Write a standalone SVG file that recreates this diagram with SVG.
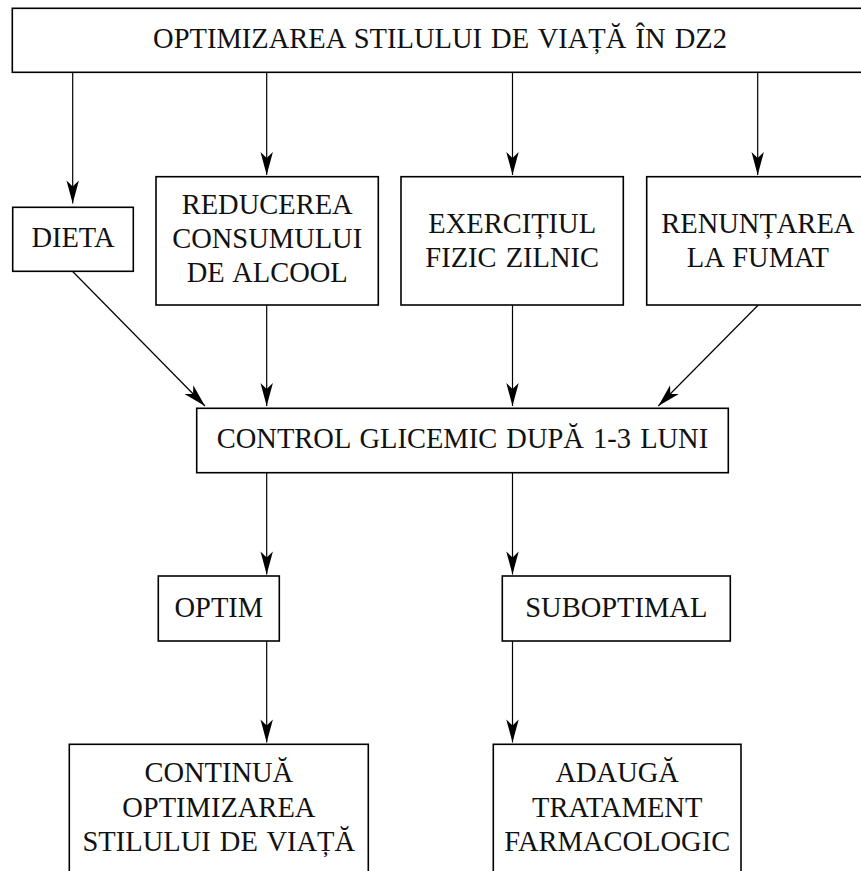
<svg xmlns="http://www.w3.org/2000/svg" width="861" height="871" viewBox="0 0 861 871">
<style>
.box{fill:#fff;stroke:#000;stroke-width:1.6}
.t{font-size:28.5px;word-spacing:2px;fill:#111;text-anchor:middle}
.c{fill:none;stroke:#000;stroke-width:1.2}
</style>
<defs>
<marker id="ah" markerUnits="userSpaceOnUse" markerWidth="26" markerHeight="14" viewBox="-24 -7 26 14" refX="0" refY="0" orient="auto">
<path d="M0,0 L-23,-6.2 L-17,0 L-23,6.2 Z" fill="#000"/>
</marker>
</defs>
<rect width="861" height="871" fill="#fff"/>
<g id="connectors">
<path class="c" d="M72.7,72.3 V203.5" marker-end="url(#ah)"/>
<path class="c" d="M266.7,72.3 V175" marker-end="url(#ah)"/>
<path class="c" d="M512.5,72.3 V175" marker-end="url(#ah)"/>
<path class="c" d="M757.7,72.3 V175" marker-end="url(#ah)"/>
<path class="c" d="M72.7,271.5 L205,406" marker-end="url(#ah)"/>
<path class="c" d="M266.7,305 V406" marker-end="url(#ah)"/>
<path class="c" d="M512.5,305 V406" marker-end="url(#ah)"/>
<path class="c" d="M758.3,305 L658.3,406" marker-end="url(#ah)"/>
<path class="c" d="M266.7,472.7 V574.5" marker-end="url(#ah)"/>
<path class="c" d="M512.5,472.7 V574.5" marker-end="url(#ah)"/>
<path class="c" d="M266.7,641 V742.5" marker-end="url(#ah)"/>
<path class="c" d="M512.5,641 V742.5" marker-end="url(#ah)"/>
</g>
<g font-family="'Liberation Serif', 'DejaVu Serif', serif">
<g id="n-top">
<rect class="box" x="12.3" y="8.3" width="856" height="64"/>
<text class="t" x="440" y="48.3">OPTIMIZAREA STILULUI DE VIAȚĂ ÎN DZ2</text>
</g>
<g id="n-dieta">
<rect class="box" x="12.7" y="207.3" width="120.6" height="64"/>
<text class="t" x="73" y="247.3">DIETA</text>
</g>
<g id="n-alcool">
<rect class="box" x="156" y="176.7" width="222.3" height="128.3"/>
<text class="t" x="267.2" y="213.5">REDUCEREA</text>
<text class="t" x="267.2" y="247.8">CONSUMULUI</text>
<text class="t" x="267.2" y="282">DE ALCOOL</text>
</g>
<g id="n-exercitiu">
<rect class="box" x="401" y="176.7" width="222.3" height="128.3"/>
<text class="t" x="512.2" y="233.3">EXERCIȚIUL</text>
<text class="t" x="512.2" y="267">FIZIC ZILNIC</text>
</g>
<g id="n-fumat">
<rect class="box" x="646.7" y="176.7" width="222.3" height="128.3"/>
<text class="t" x="757.8" y="233.3">RENUNȚAREA</text>
<text class="t" x="757.8" y="267">LA FUMAT</text>
</g>
<g id="n-control">
<rect class="box" x="196.7" y="408.3" width="531.6" height="64.4"/>
<text class="t" x="462.5" y="448.3">CONTROL GLICEMIC DUPĂ 1-3 LUNI</text>
</g>
<g id="n-optim">
<rect class="box" x="158.3" y="576" width="121" height="65"/>
<text class="t" x="218.8" y="616.7">OPTIM</text>
</g>
<g id="n-suboptimal">
<rect class="box" x="502.3" y="576" width="228" height="65"/>
<text class="t" x="616.3" y="616.7">SUBOPTIMAL</text>
</g>
<g id="n-continua">
<rect class="box" x="69.3" y="744.3" width="299" height="160"/>
<text class="t" x="218.8" y="781.7">CONTINUĂ</text>
<text class="t" x="218.8" y="817.3">OPTIMIZAREA</text>
<text class="t" x="218.8" y="851">STILULUI DE VIAȚĂ</text>
</g>
<g id="n-adauga">
<rect class="box" x="493.3" y="744.3" width="247.7" height="160"/>
<text class="t" x="617.2" y="781.7">ADAUGĂ</text>
<text class="t" x="617.2" y="817.3">TRATAMENT</text>
<text class="t" x="617.2" y="851">FARMACOLOGIC</text>
</g>
</g>
</svg>
